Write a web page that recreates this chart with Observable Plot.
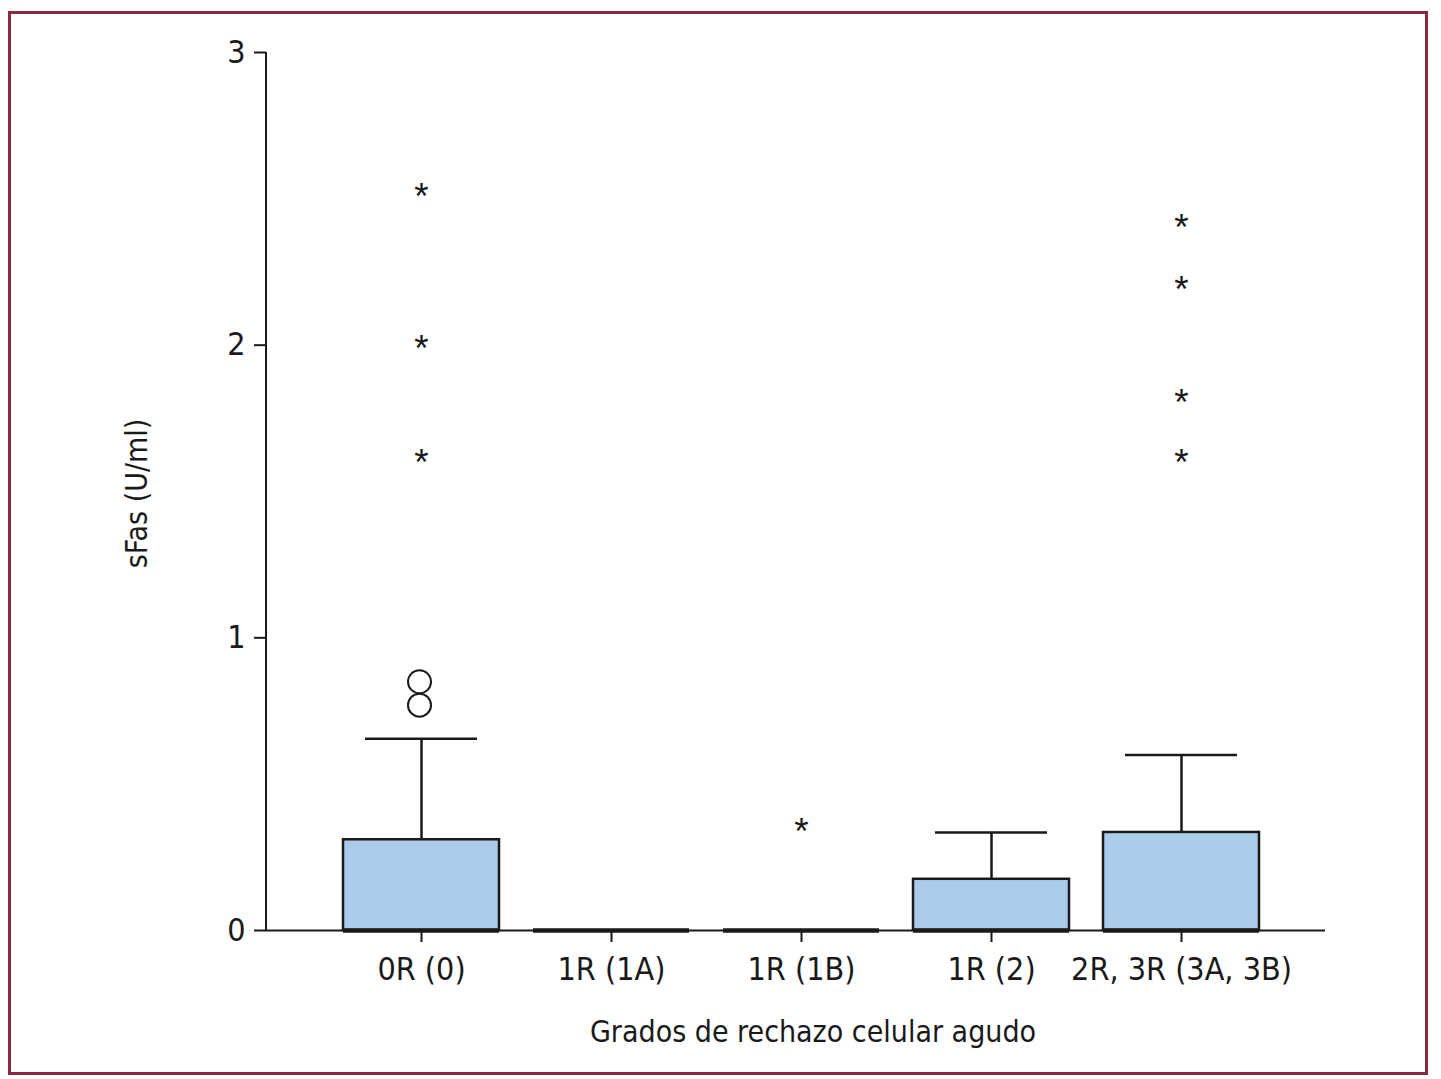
<!DOCTYPE html>
<html>
<head>
<meta charset="utf-8">
<script src="https://cdn.jsdelivr.net/npm/d3@7"></script>
<script src="https://cdn.jsdelivr.net/npm/@observablehq/plot@0.6"></script>
<style>
  html, body { margin: 0; padding: 0; background: #fff; }
  #wrap { position: relative; width: 1441px; height: 1079px; overflow: hidden; }
  #border { position: absolute; left: 8px; top: 11px; width: 1414px; height: 1058px;
            border: 3px solid #8a2a40; pointer-events: none; }
  #chart { position: absolute; left: 0; top: 0; }
</style>
</head>
<body>
<div id="wrap"><div id="chart"></div><div id="border"></div></div>
<script>
// ---- data ----
const categories = ["0R (0)", "1R (1A)", "1R (1B)", "1R (2)", "2R, 3R (3A, 3B)"];
const q1 = [0, 0, 0, 0, 0];
const median = [0, 0, 0, 0, 0];
const q3 = [0.31, 0, 0, 0.175, 0.335];
const whiskerHigh = [0.655, 0, 0, 0.335, 0.60];
const outlierCats = ["0R (0)", "0R (0)"];
const outlierVals = [0.85, 0.77];
const extremeCats = ["0R (0)", "0R (0)", "0R (0)", "1R (1B)", "2R, 3R (3A, 3B)", "2R, 3R (3A, 3B)", "2R, 3R (3A, 3B)", "2R, 3R (3A, 3B)"];
const extremeVals = [2.52, 2.0, 1.61, 0.35, 2.415, 2.20, 1.815, 1.61];
const yTicks = [0, 1, 2, 3];
const xTitle = "Grados de rechazo celular agudo";
const yTitle = "sFas (U/ml)";

const boxes = categories.map((c, i) => ({cat: c, q1: q1[i], med: median[i], q3: q3[i], hi: whiskerHigh[i]}));
const whiskers = boxes.filter(d => d.hi > d.q3);
const outliers = outlierCats.map((c, i) => ({cat: c, v: outlierVals[i]}));
const extremes = extremeCats.map((c, i) => ({cat: c, v: extremeVals[i]}));

const font = "'Liberation Sans Narrow', 'DejaVu Sans Condensed', 'Roboto Condensed', sans-serif";
const ink = "#1a1a1a";

const chart = Plot.plot({
  width: 1441,
  height: 1079,
  marginLeft: 266,
  marginRight: 116,
  marginTop: 52,
  marginBottom: 149,
  style: {fontFamily: font, color: ink, background: "transparent"},
  x: {type: "band", domain: categories, paddingInner: 0.179, paddingOuter: 0.376, align: 0.54, label: null},
  y: {domain: [0, 3], label: null},
  marks: [
    Plot.axisY({ticks: yTicks, tickSize: 12, tickPadding: 9, fontSize: 32, tickFormat: d => String(d), strokeWidth: 2, label: null}),
    Plot.axisX({tickSize: 12, tickPadding: 15, fontSize: 32, strokeWidth: 2, label: null}),
    Plot.ruleY([0], {stroke: ink, strokeWidth: 2}),
    Plot.ruleX(whiskers, {x: "cat", y1: "q3", y2: "hi", stroke: ink, strokeWidth: 2.5}),
    Plot.tickY(whiskers, {x: "cat", y: "hi", stroke: ink, strokeWidth: 2.5, insetLeft: 22, insetRight: 22}),
    Plot.rectY(boxes.filter(d => d.q3 > d.q1), {x: "cat", y1: "q1", y2: "q3", fill: "#abcbea", stroke: ink, strokeWidth: 2.5}),
    Plot.tickY(boxes, {x: "cat", y: "med", stroke: ink, strokeWidth: 4.5}),
    Plot.dot(outliers, {x: "cat", y: "v", r: 11.5, fill: "white", stroke: ink, strokeWidth: 2, dx: -2}),
    Plot.text(extremes, {x: "cat", y: "v", text: () => "*", fontSize: 37, fontFamily: "'Liberation Sans', Arial, sans-serif", fill: ink, dy: 4}),
    Plot.text([xTitle], {frameAnchor: "bottom", textAnchor: "middle", lineAnchor: "bottom", dx: 17, dy: 111, fontSize: 30, fill: ink}),
    Plot.text([yTitle], {frameAnchor: "left", textAnchor: "middle", lineAnchor: "middle", rotate: -90, dx: -129, dy: 2, fontSize: 30, fill: ink})
  ]
});

// y axis line along the left edge of the plot area, from y(3) down to y(0)
const ys = chart.scale("y");
d3.select(chart).append("line")
  .attr("x1", 266).attr("x2", 266)
  .attr("y1", ys.apply(3)).attr("y2", ys.apply(0))
  .attr("stroke", ink).attr("stroke-width", 2);

document.getElementById("chart").appendChild(chart);
</script>
</body>
</html>
